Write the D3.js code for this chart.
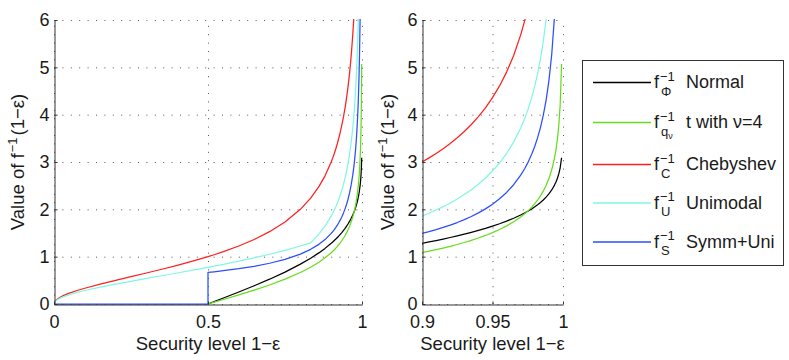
<!DOCTYPE html>
<html>
<head>
<meta charset="utf-8">
<script src="https://cdn.jsdelivr.net/npm/d3@7"></script>
<style>
  body { margin: 0; background: #fff; }
  text { font-family: "Liberation Sans", Arial, sans-serif; fill: #1a1a1a; }
</style>
</head>
<body>
<div id="chart"></div>
<script>
let width = 789, height = 360;

// security level 1-eps (0.5 twice for the step in Symm+Uni)
const level = [0, 0.002, 0.005, 0.01, 0.02, 0.03, 0.05, 0.075, 0.1, 0.15, 0.2, 0.25, 0.3, 0.35, 0.4, 0.45, 0.5, 0.5,
  0.52, 0.55, 0.6, 0.65, 0.7, 0.75, 0.8, 0.8333, 0.86, 0.88, 0.9, 0.905, 0.91, 0.915, 0.92, 0.925, 0.93, 0.935, 0.94,
  0.945, 0.95, 0.955, 0.96, 0.965, 0.97, 0.973, 0.975, 0.978, 0.98, 0.982, 0.984, 0.986, 0.988, 0.99, 0.992, 0.994,
  0.995, 0.996, 0.997, 0.998, 0.999];

const N16 = [null, null, null, null, null, null, null, null, null, null, null, null, null, null, null, null];

const normal = N16.concat([0, 0, 0.050, 0.126, 0.253, 0.385, 0.524, 0.674, 0.842, 0.967, 1.080, 1.175, 1.282, 1.311,
  1.341, 1.372, 1.405, 1.440, 1.476, 1.514, 1.555, 1.598, 1.645, 1.695, 1.751, 1.812, 1.881, 1.927, 1.960, 2.014,
  2.054, 2.097, 2.144, 2.197, 2.257, 2.326, 2.409, 2.512, 2.576, 2.652, 2.748, 2.878, 3.090]);

const tdist = N16.concat([0, 0, 0.038, 0.095, 0.191, 0.293, 0.402, 0.524, 0.665, 0.777, 0.883, 0.975, 1.084, 1.115,
  1.147, 1.182, 1.218, 1.257, 1.299, 1.345, 1.394, 1.448, 1.507, 1.574, 1.650, 1.737, 1.839, 1.910, 1.963, 2.053,
  2.120, 2.197, 2.283, 2.384, 2.504, 2.650, 2.835, 3.088, 3.256, 3.470, 3.763, 4.208, 5.072]);

const chebyshev = [0, 0.045, 0.071, 0.101, 0.143, 0.176, 0.229, 0.285, 0.333, 0.420, 0.500, 0.577, 0.655, 0.734,
  0.816, 0.905, 1.000, 1.000, 1.041, 1.106, 1.225, 1.363, 1.528, 1.732, 2.000, 2.236, 2.479, 2.708, 3.000, 3.087,
  3.180, 3.281, 3.391, 3.512, 3.645, 3.793, 3.958, 4.145, 4.359, 4.607, 4.899, 5.251, 5.686, 6.003, 6.245];

const unimodal = [0, 0.039, 0.061, 0.087, 0.123, 0.152, 0.197, 0.244, 0.285, 0.356, 0.420, 0.480, 0.539, 0.597,
  0.655, 0.714, 0.775, 0.775, 0.800, 0.838, 0.905, 0.975, 1.051, 1.134, 1.225, 1.291, 1.475, 1.644, 1.856, 1.918,
  1.985, 2.056, 2.134, 2.219, 2.313, 2.416, 2.531, 2.661, 2.809, 2.979, 3.180, 3.420, 3.717, 3.932, 4.096, 4.382,
  4.607, 4.867, 5.175, 5.545, 6.003, 6.591];

const symmUni = [0, 0, 0, 0, 0, 0, 0, 0, 0, 0, 0, 0, 0, 0, 0, 0, 0, 0.667, 0.680, 0.703, 0.745, 0.797, 0.861, 0.943,
  1.054, 1.155, 1.260, 1.361, 1.491, 1.529, 1.571, 1.617, 1.667, 1.721, 1.782, 1.849, 1.925, 2.010, 2.108, 2.222,
  2.357, 2.520, 2.722, 2.869, 2.981, 3.178, 3.333, 3.514, 3.727, 3.984, 4.303, 4.714, 5.271, 6.086];

// legend
const names = ["Normal", "t with \u03bd=4", "Chebyshev", "Unimodal", "Symm+Uni"];
const subs = ["\u03a6", "q", "C", "U", "S"];
const colors = ["#000000", "#66dd1c", "#ff1f1f", "#80f7e0", "#2a4dff"];
const seriesList = [normal, tdist, chebyshev, unimodal, symmUni];

const yTicks = [0, 1, 2, 3, 4, 5, 6];

const svg = d3.select("#chart")
  .append("svg")
  .attr("width", width)
  .attr("height", height);

const y = d3.scaleLinear().domain([0, 6]).range([304, 20]);

const panels = [
  { id: "a", domain: [0, 1], range: [54, 362], ticks: [0, 0.5, 1], labelX: 24 },
  { id: "b", domain: [0.9, 1], range: [422, 563], ticks: [0.9, 0.95, 1], labelX: 394 }
];

panels.forEach(p => {
  let x = d3.scaleLinear().domain(p.domain).range(p.range);
  const g = svg.append("g");

  // dotted grid
  g.append("g").selectAll("line.gy")
    .data(yTicks)
    .join("line")
    .attr("x1", p.range[0]).attr("x2", p.range[1])
    .attr("y1", d => y(d) + 0.5).attr("y2", d => y(d) + 0.5)
    .attr("stroke", "#555").attr("stroke-width", 1)
    .attr("stroke-dasharray", "1,7.4");
  g.append("g").selectAll("line.gx")
    .data(p.ticks)
    .join("line")
    .attr("x1", d => x(d) + 0.5).attr("x2", d => x(d) + 0.5)
    .attr("y1", y(0)).attr("y2", y(6))
    .attr("stroke", "#555").attr("stroke-width", 1)
    .attr("stroke-dasharray", "1,7.4");

  svg.append("clipPath").attr("id", "clip-" + p.id)
    .append("rect")
    .attr("x", p.range[0]).attr("y", 19)
    .attr("width", p.range[1] - p.range[0] + 1).attr("height", 286);

  const line = d3.line()
    .defined(d => d[1] != null)
    .x(d => x(d[0]))
    .y(d => y(d[1]));

  g.append("g")
    .attr("clip-path", `url(#clip-${p.id})`)
    .selectAll("path")
    .data(seriesList)
    .join("path")
    .attr("d", s => line(s.map((v, i) => [level[i], v])))
    .attr("fill", "none")
    .attr("stroke", (s, i) => colors[i])
    .attr("stroke-width", 1.25)
    .attr("stroke-linejoin", "round");

  // axes, ticks point inward
  const xAxis = g.append("g")
    .attr("transform", `translate(0,${y(0) + 0.5})`)
    .call(d3.axisBottom(x).tickValues(p.ticks).tickFormat(d3.format("~g")).tickSizeInner(-3).tickSizeOuter(0).tickPadding(11));
  const yAxis = g.append("g")
    .attr("transform", `translate(${p.range[0] + 0.5},0)`)
    .call(d3.axisLeft(y).tickValues(yTicks).tickFormat(d3.format("d")).tickSizeInner(-3).tickSizeOuter(0).tickPadding(5));

  [xAxis, yAxis].forEach(a => {
    a.select(".domain").attr("stroke", "#333");
    a.selectAll(".tick line").attr("stroke", "#333");
    a.selectAll(".tick text").attr("font-size", 18).attr("font-family", "Liberation Sans, Arial, sans-serif").attr("fill", "#1a1a1a");
  });

  svg.append("text")
    .attr("x", (p.range[0] + p.range[1]) / 2)
    .attr("y", 350)
    .attr("text-anchor", "middle")
    .attr("font-size", 18.5)
    .text("Security level 1\u2212\u03b5");

  const yl = svg.append("text")
    .attr("transform", `translate(${p.labelX},162) rotate(-90)`)
    .attr("text-anchor", "middle")
    .attr("font-size", 18.5);
  yl.append("tspan").text("Value of f");
  yl.append("tspan").attr("dx", 1).attr("dy", -7).attr("font-size", 13).text("\u22121");
  yl.append("tspan").attr("dx", 2).attr("dy", 7).text("(1\u2212\u03b5)");
});

// legend
const entryY = [82.5, 122.5, 164.5, 203, 242];
const lg = svg.append("g");
lg.append("rect")
  .attr("x", 582.5).attr("y", 60.5)
  .attr("width", 201).attr("height", 205)
  .attr("fill", "#fff").attr("stroke", "#333");

names.forEach((n, i) => {
  let ly = entryY[i];
  lg.append("line")
    .attr("x1", 593).attr("x2", 651)
    .attr("y1", ly).attr("y2", ly)
    .attr("stroke", colors[i]).attr("stroke-width", 1.3);
  lg.append("text").attr("x", 654).attr("y", ly + 5.5).attr("font-size", 18).text("f");
  lg.append("text").attr("x", 660).attr("y", ly - 2).attr("font-size", 13).text("\u22121");
  const sb = lg.append("text").attr("x", 661).attr("y", ly + 13).attr("font-size", 13);
  sb.append("tspan").text(subs[i]);
  if (i === 1) sb.append("tspan").attr("dy", 3).attr("font-size", 9).text("\u03bd");
  lg.append("text").attr("x", 686).attr("y", ly + 5.5).attr("font-size", 18).text(n);
});
</script>
</body>
</html>
